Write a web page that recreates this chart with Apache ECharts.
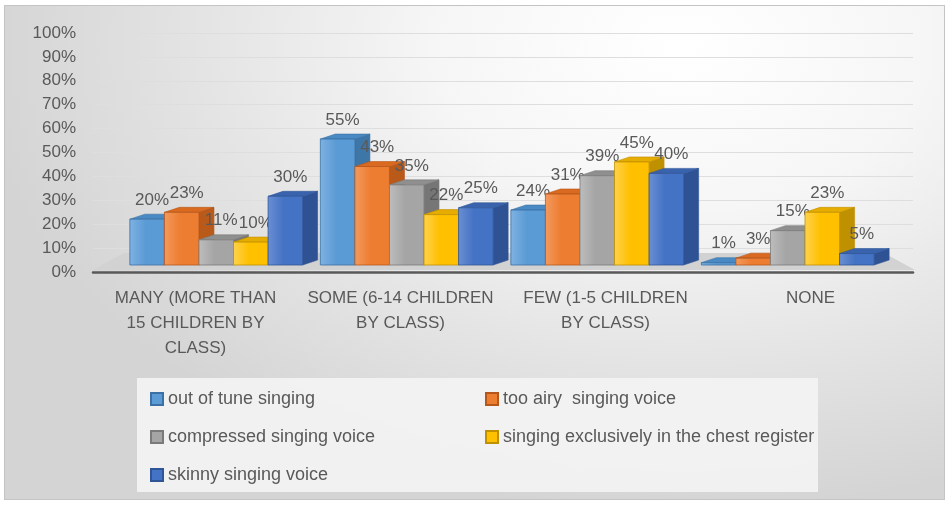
<!DOCTYPE html>
<html>
<head>
<meta charset="utf-8">
<script src="https://cdn.jsdelivr.net/npm/echarts@6/dist/echarts.min.js"></script>
<style>
html,body{margin:0;padding:0;background:#fff;}
#frame{position:absolute;left:4px;top:5px;width:939px;height:493px;border:1px solid #c4c4c4;
background:radial-gradient(ellipse 75% 95% at 72% 8%, #ffffff 0%, #f6f6f6 35%, #e4e4e4 68%, #d4d4d4 100%);}
#chart{position:absolute;left:0;top:0;width:949px;height:505px;}
</style>
</head>
<body>
<div id="frame"></div>
<div id="chart"></div>
<script>
const categories = ['MANY (MORE THAN 15 CHILDREN BY CLASS)', 'SOME (6-14 CHILDREN BY CLASS)', 'FEW (1-5 CHILDREN BY CLASS)', 'NONE'];
const categoryTickLabels = ['MANY (MORE THAN\n15 CHILDREN BY\nCLASS)', 'SOME (6-14 CHILDREN\nBY CLASS)', 'FEW (1-5 CHILDREN\nBY CLASS)', 'NONE'];
const seriesNames = ['out of tune singing', 'too airy  singing voice', 'compressed singing voice', 'singing exclusively in the chest register', 'skinny singing voice'];
const outOfTune = [20, 55, 24, 1];
const tooAiry = [23, 43, 31, 3];
const compressed = [11, 35, 39, 15];
const chestRegister = [10, 22, 45, 23];
const skinny = [30, 25, 40, 5];
const allValues = [outOfTune, tooAiry, compressed, chestRegister, skinny];

const FONT = '"Liberation Sans", Arial, sans-serif';
const faceColors = [
  {front:'#5B9BD5', light:'#7fb2e2', top:'#4a8ac4', side:'#3f76a8', stroke:'#3a70a3'},
  {front:'#ED7D31', light:'#f39a5e', top:'#d96a1f', side:'#b9591a', stroke:'#b5561a'},
  {front:'#A5A5A5', light:'#bdbdbd', top:'#8f8f8f', side:'#767676', stroke:'#7a7a7a'},
  {front:'#FFC000', light:'#ffd24d', top:'#e6ac00', side:'#bf9000', stroke:'#bf9000'},
  {front:'#4472C4', light:'#6a8fd3', top:'#3a63ad', side:'#2f5294', stroke:'#2f5597'}
];

function makeRender(si) {
  return function (params, api) {
    const cat = api.value(0), val = api.value(1);
    const base = api.coord([cat, 0]);
    const top = api.coord([cat, val]);
    const catW = api.size([1, 0])[0];
    const barW = catW * 0.907 / 5;
    const x0 = base[0] + (si - 2.5) * barW;
    const x1 = x0 + barW;
    const y0 = base[1], y1 = top[1];
    const dx = 15, dy = 5;
    const c = faceColors[si];
    return {
      type: 'group',
      children: [
        {type:'polygon', shape:{points:[[x1,y1],[x1+dx,y1-dy],[x1+dx,y0-dy],[x1,y0]]},
         style:{fill:c.side, stroke:c.stroke, lineWidth:0.6}},
        {type:'polygon', shape:{points:[[x0,y1],[x0+dx,y1-dy],[x1+dx,y1-dy],[x1,y1]]},
         style:{fill:c.top, stroke:c.stroke, lineWidth:0.6}},
        {type:'rect', shape:{x:x0, y:y1, width:barW, height:Math.max(y0-y1,0.5)},
         style:{fill:new echarts.graphic.LinearGradient(0,0,1,0,[
           {offset:0,color:c.light},{offset:0.45,color:c.front},{offset:1,color:c.front}]),
           stroke:c.stroke, lineWidth:0.8}},
        {type:'text', x:(x0+x1)/2 + 5, y:y1 - dy - 14,
         style:{text: val + '%', fill:'#595959', font:'17px ' + FONT,
           align:'center', verticalAlign:'middle'}}
      ]
    };
  };
}

const series = seriesNames.map((name, si) => ({
  name: name,
  type: 'custom',
  xAxisIndex: 0,
  yAxisIndex: 0,
  renderItem: makeRender(si),
  encode: {x: 0, y: 1},
  itemStyle: {color: faceColors[si].front, borderColor: faceColors[si].stroke, borderWidth: 1},
  data: categories.map((cname, i) => [i, allValues[si][i]]),
  z: 3
}));

const legendText = {color:'#595959', fontSize:18, fontFamily:FONT};
const chart = echarts.init(document.getElementById('chart'), null, {renderer: 'canvas'});
chart.setOption({
  animation: false,
  backgroundColor: 'transparent',
  textStyle: {color:'#595959', fontFamily:FONT, fontSize:17},
  graphic: [
    {type:'polygon', z:1, silent:true,
     shape:{points:[[93,270],[915,270],[884,253],[124,253]]},
     style:{fill:'#d2d2d2'}},
    {type:'rect', z:0, silent:true,
     shape:{x:137, y:378, width:681, height:114},
     style:{fill:'rgba(244,244,244,0.9)'}}
  ],
  grid: [
    {left:121, right:66, top:36, bottom:240},
    {left:93, right:36, top:33, bottom:233}
  ],
  xAxis: [
    {type:'category', gridIndex:0, data:categories, show:false},
    {type:'category', gridIndex:1, data:categoryTickLabels,
     axisTick:{show:false},
     axisLine:{show:true, lineStyle:{color:'#595959', width:2.5}},
     axisLabel:{color:'#595959', fontSize:17, lineHeight:25, margin:14, interval:0, fontFamily:FONT}}
  ],
  yAxis: [
    {type:'value', gridIndex:0, min:0, max:100, show:false},
    {type:'value', gridIndex:1, min:0, max:100, interval:10,
     axisLine:{show:false}, axisTick:{show:false},
     axisLabel:{formatter:'{value}%', color:'#595959', fontSize:17, margin:17, fontFamily:FONT},
     splitLine:{lineStyle:{color:'#dedede', width:1}}}
  ],
  legend: [
    {data:[seriesNames[0], seriesNames[2], seriesNames[4]], orient:'vertical', left:145, top:385,
     itemWidth:12, itemHeight:12, itemGap:20, icon:'rect', textStyle:legendText},
    {data:[seriesNames[1], seriesNames[3]], orient:'vertical', left:480, top:385,
     itemWidth:12, itemHeight:12, itemGap:20, icon:'rect', textStyle:legendText}
  ],
  series: series
});
</script>
</body>
</html>
